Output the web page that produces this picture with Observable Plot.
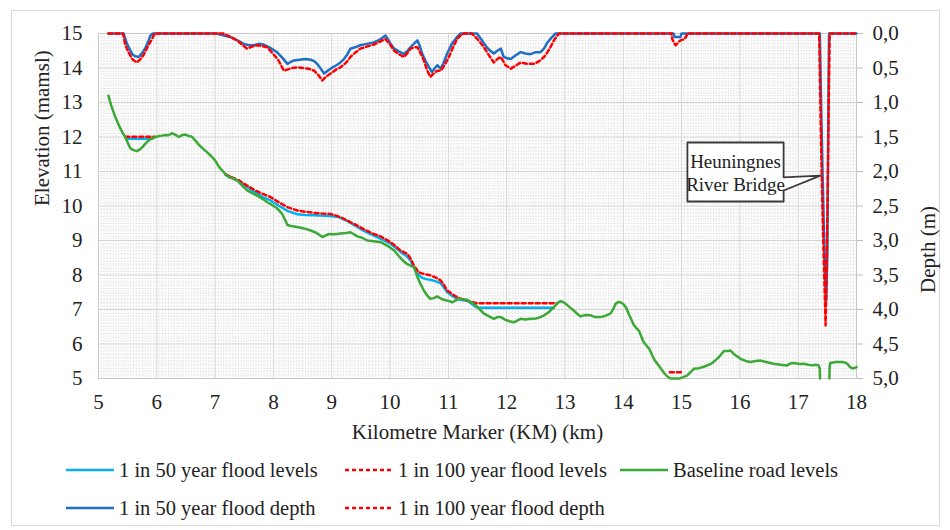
<!DOCTYPE html>
<html>
<head>
<meta charset="utf-8">
<script src="https://cdn.jsdelivr.net/npm/d3@7"></script>
<script src="https://cdn.jsdelivr.net/npm/@observablehq/plot@0.6"></script>
<style>
  html, body { margin: 0; padding: 0; background: #fff; }
  #wrap { position: relative; width: 950px; height: 530px; overflow: hidden; font-family: "Liberation Serif", "DejaVu Serif", serif; color: #222; }
  #border { position: absolute; left: 11px; top: 10px; width: 929px; height: 516px; border: 1px solid #d9d9d9; box-sizing: border-box; }
  #chart { position: absolute; left: 0; top: 0; }
  .legend { position: absolute; left: 66px; display: flex; font-size: 20.5px; line-height: 22px; }
  .item { display: flex; align-items: center; white-space: nowrap; }
  .item svg { margin-right: 5px; }
  #chart svg text { font-family: "Liberation Serif", "DejaVu Serif", serif; }
</style>
</head>
<body>
<div id="wrap">
  <div id="border"></div>
  <div id="chart"></div>
  <div class="legend" id="leg1" style="top:459px"></div>
  <div class="legend" id="leg2" style="top:497px"></div>
</div>
<script>
// ---------- Data ----------
const kmTicks = [5, 6, 7, 8, 9, 10, 11, 12, 13, 14, 15, 16, 17, 18];
const elevTicks = [5, 6, 7, 8, 9, 10, 11, 12, 13, 14, 15];
const depthTicks = [0, 0.5, 1.0, 1.5, 2.0, 2.5, 3.0, 3.5, 4.0, 4.5, 5.0];

// Baseline road levels (km, elevation mamsl); null breaks the line
const roadKm = [5.17,5.22,5.29,5.36,5.42,5.46,5.51,5.55,5.60,5.66,5.71,5.75,5.80,5.86,5.92,5.98,6.04,6.09,6.15,6.20,6.26,6.32,6.38,6.44,6.49,6.55,6.60,6.66,6.72,6.80,6.86,6.93,7.00,7.06,7.12,7.18,7.23,7.30,7.38,7.46,7.55,7.63,7.72,7.82,7.90,7.95,8.05,8.15,8.20,8.24,8.30,8.41,8.52,8.64,8.74,8.84,8.90,8.95,9.05,9.15,9.25,9.32,9.38,9.44,9.52,9.61,9.72,9.84,9.92,10.00,10.07,10.15,10.22,10.29,10.35,10.41,10.47,10.52,10.58,10.64,10.69,10.75,10.81,10.87,10.92,11.00,11.07,11.12,11.18,11.25,11.32,11.40,11.47,11.54,11.61,11.70,11.78,11.84,11.90,11.98,12.05,12.12,12.18,12.24,12.32,12.41,12.50,12.58,12.65,12.72,12.78,12.84,12.88,12.92,12.97,13.01,13.08,13.15,13.22,13.27,13.35,13.44,13.52,13.61,13.70,13.78,13.83,13.87,13.92,13.95,14.00,14.05,14.10,14.14,14.18,14.22,14.27,14.35,14.45,14.53,14.62,14.70,14.76,14.81,14.88,14.96,15.03,15.10,15.15,15.21,15.30,15.38,15.44,15.52,15.61,15.67,15.73,15.79,15.84,15.89,15.93,15.97,16.01,16.10,16.18,16.27,16.35,16.45,16.58,16.70,16.81,16.87,16.93,17.02,17.10,17.17,17.24,17.30,17.35,17.37,17.375,17.45,17.535,17.54,17.55,17.65,17.73,17.79,17.84,17.88,17.92,17.96,18.00];
const roadElev = [13.20,12.90,12.57,12.30,12.10,12.00,11.80,11.66,11.62,11.59,11.64,11.70,11.80,11.90,11.96,12.00,12.03,12.04,12.06,12.05,12.11,12.06,12.00,12.06,12.07,12.03,12.01,11.90,11.78,11.65,11.56,11.45,11.32,11.15,11.03,10.92,10.84,10.80,10.74,10.60,10.45,10.38,10.30,10.20,10.10,10.06,9.95,9.77,9.60,9.45,9.42,9.39,9.35,9.29,9.22,9.10,9.15,9.19,9.18,9.20,9.22,9.24,9.18,9.12,9.08,9.00,8.98,8.95,8.88,8.80,8.71,8.55,8.42,8.32,8.27,8.23,7.94,7.75,7.55,7.40,7.31,7.33,7.38,7.32,7.28,7.25,7.21,7.26,7.31,7.30,7.28,7.20,7.12,7.00,6.88,6.80,6.73,6.78,6.78,6.70,6.66,6.63,6.68,6.73,6.71,6.73,6.74,6.78,6.84,6.92,7.02,7.12,7.20,7.24,7.22,7.17,7.07,6.97,6.86,6.80,6.84,6.83,6.78,6.78,6.82,6.88,7.02,7.17,7.22,7.21,7.16,7.05,6.85,6.70,6.55,6.47,6.38,6.05,5.85,5.55,5.35,5.16,5.05,5.00,5.00,5.00,5.04,5.09,5.18,5.28,5.30,5.34,5.38,5.44,5.57,5.68,5.80,5.80,5.81,5.72,5.67,5.62,5.57,5.51,5.48,5.51,5.52,5.48,5.43,5.40,5.38,5.44,5.45,5.42,5.43,5.40,5.38,5.40,5.38,5.30,5.00,null,5.00,5.35,5.45,5.48,5.48,5.47,5.43,5.35,5.30,5.30,5.33];

// 1 in 50 year flood levels (km, elevation)
const lvl50Km = [5.47,5.92,null,7.18,7.30,7.40,7.55,7.70,7.82,7.95,8.10,8.25,8.41,8.55,8.70,8.87,9.00,9.12,9.25,9.35,9.44,9.55,9.72,9.84,10.00,10.10,10.18,10.28,10.35,10.42,10.47,10.55,10.62,10.69,10.78,10.87,10.93,10.98,11.06,11.15,11.25,11.32,11.45,11.50,12.81];
const lvl50Elev = [11.95,11.95,null,10.90,10.80,10.72,10.55,10.38,10.26,10.16,10.00,9.85,9.76,9.74,9.73,9.72,9.70,9.68,9.58,9.48,9.39,9.28,9.14,9.05,8.92,8.78,8.67,8.55,8.42,8.20,8.03,7.92,7.88,7.86,7.82,7.76,7.62,7.50,7.40,7.31,7.27,7.26,7.10,7.05,7.05];

// 1 in 100 year flood levels (km, elevation)
const lvl100Km = [5.46,5.96,null,7.18,7.30,7.40,7.55,7.70,7.82,7.95,8.10,8.25,8.41,8.55,8.70,8.84,8.98,9.15,9.30,9.44,9.58,9.72,9.84,10.01,10.10,10.18,10.30,10.36,10.41,10.49,10.58,10.69,10.78,10.87,10.93,10.98,11.10,11.20,11.32,11.40,11.49,12.86,null,14.80,15.02];
const lvl100Elev = [12.01,12.01,null,10.92,10.82,10.75,10.59,10.44,10.35,10.26,10.10,9.96,9.87,9.83,9.80,9.78,9.77,9.68,9.55,9.43,9.30,9.19,9.12,8.95,8.83,8.71,8.61,8.45,8.27,8.08,8.03,7.99,7.93,7.84,7.70,7.55,7.41,7.32,7.26,7.22,7.18,7.18,null,5.18,5.18];

// 1 in 50 year flood depth (km, depth m)
const dep50Km = [5.17,5.43,5.46,5.49,5.53,5.58,5.63,5.69,5.75,5.81,5.86,5.89,5.93,7.03,7.15,7.26,7.38,7.49,7.58,7.66,7.75,7.83,7.95,8.06,8.15,8.24,8.30,8.35,8.45,8.55,8.64,8.70,8.75,8.82,8.87,8.93,8.98,9.08,9.15,9.21,9.27,9.32,9.40,9.49,9.60,9.72,9.80,9.86,9.92,9.96,10.01,10.07,10.15,10.24,10.30,10.35,10.42,10.47,10.51,10.55,10.61,10.67,10.72,10.77,10.81,10.87,10.92,10.98,11.06,11.15,11.21,11.49,11.56,11.61,11.66,11.72,11.78,11.84,11.90,11.95,12.01,12.07,12.15,12.24,12.32,12.41,12.50,12.58,12.64,12.70,12.77,12.84,14.86,14.88,14.98,15.00,17.37,17.38,17.40,17.42,17.44,17.46,17.48,17.50,17.51,17.52,17.53,18.00];
const dep50 = [0,0,0.08,0.15,0.22,0.30,0.33,0.34,0.28,0.20,0.10,0.03,0,0,0.03,0.05,0.10,0.15,0.17,0.17,0.15,0.16,0.21,0.27,0.35,0.44,0.41,0.39,0.38,0.37,0.38,0.40,0.44,0.52,0.58,0.54,0.51,0.46,0.42,0.37,0.30,0.22,0.20,0.17,0.15,0.13,0.10,0.07,0.03,0.08,0.15,0.22,0.26,0.30,0.25,0.20,0.14,0.10,0.18,0.29,0.40,0.49,0.56,0.50,0.46,0.51,0.42,0.29,0.15,0.05,0,0,0.08,0.14,0.20,0.25,0.29,0.25,0.22,0.34,0.36,0.37,0.32,0.27,0.29,0.30,0.27,0.27,0.22,0.13,0.06,0,0,0.05,0.05,0,0,0.40,1.30,2.10,2.80,3.40,3.87,3.20,2.00,0.80,0,0];

// 1 in 100 year flood depth (km, depth m)
const dep100Km = [5.17,5.42,5.46,5.52,5.58,5.62,5.66,5.72,5.78,5.85,5.92,5.96,7.15,7.26,7.38,7.47,7.55,7.63,7.72,7.80,7.89,7.98,8.08,8.18,8.25,8.32,8.41,8.50,8.60,8.70,8.77,8.84,8.91,8.98,9.08,9.15,9.21,9.27,9.32,9.40,9.49,9.60,9.72,9.82,9.92,9.96,10.01,10.07,10.15,10.24,10.30,10.35,10.42,10.47,10.52,10.58,10.63,10.69,10.75,10.81,10.87,10.94,11.01,11.08,11.15,11.22,11.27,11.40,11.44,11.52,11.61,11.70,11.78,11.84,11.90,11.98,12.07,12.15,12.24,12.35,12.47,12.56,12.64,12.70,12.75,12.81,12.87,12.90,14.83,14.84,14.88,14.90,14.95,14.98,15.05,15.08,15.10,17.36,17.37,17.39,17.41,17.43,17.45,17.47,17.49,17.51,17.53,17.54,18.00];
const dep100 = [0,0,0.17,0.28,0.37,0.40,0.42,0.37,0.30,0.18,0.08,0,0,0.05,0.10,0.17,0.22,0.19,0.17,0.18,0.20,0.28,0.38,0.54,0.52,0.50,0.49,0.50,0.51,0.54,0.60,0.68,0.62,0.58,0.52,0.49,0.45,0.40,0.34,0.28,0.22,0.19,0.16,0.12,0.08,0.12,0.17,0.25,0.30,0.34,0.28,0.22,0.20,0.20,0.28,0.39,0.52,0.63,0.58,0.54,0.54,0.45,0.34,0.20,0.08,0.02,0,0,0.03,0.10,0.20,0.32,0.42,0.37,0.34,0.46,0.51,0.47,0.42,0.44,0.44,0.40,0.34,0.27,0.20,0.10,0.03,0,0,0.08,0.15,0.17,0.12,0.10,0.08,0.04,0,0,0.50,1.50,2.30,3.00,3.60,4.23,3.30,2.00,0.60,0,0];

// Callout annotation for the bridge
const calloutLines = ["Heuningnes", "River Bridge"];
const bridgeKm = 17.38, bridgeElev = 10.88;
const boxKm = [15.10, 16.75], boxElev = [10.13, 11.84], wedgeElev = [10.45, 10.83];

const legendRow1 = [
  {label: "1 in 50 year flood levels", color: "#00b0f0", dash: null},
  {label: "1 in 100 year flood levels", color: "#ff0000", dash: "4,3"},
  {label: "Baseline road levels", color: "#3aa935", dash: null}
];
const legendRow2 = [
  {label: "1 in 50 year flood depth", color: "#1f6fc6", dash: null},
  {label: "1 in 100 year flood depth", color: "#ff0000", dash: "4,3"}
];

// ---------- Build ----------
const toRows = (xs, ys) => xs.map((x, i) => ({x, y: ys[i]}));
const depthToElev = d => 15 - 2 * d; // right axis: depth 0..5 m over elevation 15..5
const road = toRows(roadKm, roadElev);
const l50 = toRows(lvl50Km, lvl50Elev);
const l100 = toRows(lvl100Km, lvl100Elev);
const d50 = toRows(dep50Km, dep50);
const d100 = toRows(dep100Km, dep100);

const callout = [
  {x: boxKm[0], y: boxElev[1]}, {x: boxKm[1], y: boxElev[1]}, {x: boxKm[1], y: wedgeElev[1]},
  {x: bridgeKm, y: bridgeElev}, {x: boxKm[1], y: wedgeElev[0]}, {x: boxKm[1], y: boxElev[0]},
  {x: boxKm[0], y: boxElev[0]}, {x: boxKm[0], y: boxElev[1]}
];

const minorX = d3.range(5, 18.001, 0.05).filter(v => Math.abs(v - Math.round(v)) > 1e-6);
const minorY = d3.range(5, 15.001, 0.1).filter(v => Math.abs(v - Math.round(v)) > 1e-6);

const font = '"Liberation Serif", "DejaVu Serif", serif';
const fs = 21;
const plot = Plot.plot({
  width: 950, height: 450,
  marginLeft: 98, marginRight: 94, marginTop: 33, marginBottom: 72,
  style: {fontFamily: font, fontSize: fs + "px", color: "#222", background: "transparent", overflow: "visible"},
  x: {domain: [5, 18]},
  y: {domain: [5, 15]},
  marks: [
    Plot.gridX(minorX, {stroke: "#dedede", strokeOpacity: 1, strokeDasharray: "1,1.5"}),
    Plot.gridY(minorY, {stroke: "#dedede", strokeOpacity: 1, strokeDasharray: "1,1.5"}),
    Plot.gridX(kmTicks, {stroke: "#d4d4d4", strokeOpacity: 1}),
    Plot.gridY(elevTicks, {stroke: "#d4d4d4", strokeOpacity: 1}),
    Plot.frame({stroke: "#c8c8c8"}),
    Plot.axisX(kmTicks, {tickSize: 0, tickPadding: 16, label: null, fontSize: fs}),
    Plot.axisY(elevTicks, {tickSize: 0, tickPadding: 16, label: null, fontSize: fs}),
    Plot.axisY(depthTicks.map(depthToElev), {anchor: "right", tickSize: 6, tickPadding: 10, stroke: "#bdbdbd", label: null, fontSize: fs,
      tickFormat: v => ((15 - v) / 2).toFixed(1).replace(".", ",")}),
    Plot.text(["Elevation (mamsl)"], {frameAnchor: "left", dx: -56, rotate: -90, fontSize: fs}),
    Plot.text(["Depth (m)"], {frameAnchor: "right", dx: 72, rotate: -90, fontSize: fs}),
    Plot.text(["Kilometre Marker (KM) (km)"], {frameAnchor: "bottom", dy: 60, fontSize: fs}),
    Plot.line(l50, {x: "x", y: "y", stroke: "#00b0f0", strokeWidth: 2.5}),
    Plot.line(l100, {x: "x", y: "y", stroke: "#ff0000", strokeWidth: 2.5, strokeDasharray: "4,3"}),
    Plot.line(road, {x: "x", y: "y", stroke: "#3aa935", strokeWidth: 2.5}),
    Plot.line(d50, {x: "x", y: d => depthToElev(d.y), stroke: "#1f6fc6", strokeWidth: 2.5}),
    Plot.line(d100, {x: "x", y: d => depthToElev(d.y), stroke: "#ff0000", strokeWidth: 2.5, strokeDasharray: "4,3"}),
    Plot.line(callout, {x: "x", y: "y", fill: "white", stroke: "#3a3a3a", strokeWidth: 1.8, curve: "linear"}),
    Plot.text([calloutLines.join("\n")], {x: (boxKm[0] + boxKm[1]) / 2, y: (boxElev[0] + boxElev[1]) / 2, fontSize: 19, lineHeight: 1.2, fill: "#222"})
  ]
});
document.getElementById("chart").appendChild(plot);

function buildLegend(el, items, widths) {
  items.forEach((it, i) => {
    const div = document.createElement("div");
    div.className = "item";
    div.style.width = widths[i] + "px";
    div.innerHTML = `<svg width="48" height="10"><line x1="0" x2="48" y1="5" y2="5" stroke="${it.color}" stroke-width="2.5" ${it.dash ? `stroke-dasharray="${it.dash}"` : ""}/></svg><span>${it.label}</span>`;
    el.appendChild(div);
  });
}
buildLegend(document.getElementById("leg1"), legendRow1, [279, 275, 300]);
buildLegend(document.getElementById("leg2"), legendRow2, [279, 275]);
</script>
</body>
</html>
